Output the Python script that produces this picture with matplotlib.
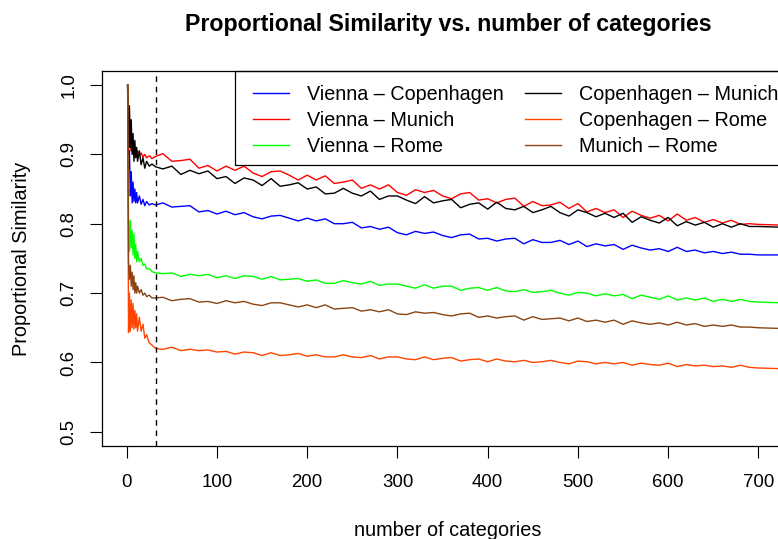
import matplotlib
matplotlib.use('Agg')
import matplotlib.pyplot as plt
from matplotlib.patches import Rectangle

plt.rcParams['font.family'] = ['Liberation Sans', 'DejaVu Sans']

# number of categories (x positions of the samples)
cats = [1, 2, 3, 4, 5, 6, 7, 8, 9, 10, 11, 12, 14, 16, 18, 20, 22, 25, 28, 32] \
    + list(range(40, 700, 10)) + [700, 725]

vienna_copenhagen = [1.0, .88, .905, .84, .875, .83, .86, .832, .85, .83, .845, .83, .84, .828, .835, .826, .832, .827, .829, .827,
    .830, .824, .825, .826, .817, .819, .814, .818, .813, .816,
    .810, .807, .811, .812, .808, .804, .808, .804, .807, .800,
    .800, .802, .794, .796, .792, .795, .787, .784, .789, .786,
    .788, .783, .780, .784, .785, .778, .779, .775, .778, .779,
    .771, .777, .773, .773, .776, .770, .775, .767, .771, .768,
    .770, .763, .769, .765, .762, .764, .760, .766, .760, .762,
    .758, .760, .757, .759, .756, .756,
    .755, .755]

vienna_munich = [1.0, .93, .91, .925, .905, .915, .90, .912, .902, .908, .90, .905, .898, .902, .896, .90, .895, .898, .894, .897,
    .901, .890, .891, .893, .880, .884, .876, .883, .877, .883,
    .873, .868, .875, .876, .870, .863, .870, .863, .869, .858,
    .860, .863, .851, .856, .850, .856, .845, .841, .849, .845,
    .848, .840, .836, .843, .845, .834, .836, .830, .835, .837,
    .825, .832, .826, .827, .831, .822, .829, .817, .822, .816,
    .820, .809, .818, .812, .808, .812, .804, .814, .805, .809,
    .802, .806, .801, .805, .799, .800,
    .799, .798]

vienna_rome = [1.0, .81, .76, .805, .765, .79, .755, .785, .75, .77, .745, .76, .745, .75, .74, .742, .735, .735, .731, .729,
    .728, .729, .724, .727, .725, .727, .722, .725, .721, .725,
    .724, .720, .724, .719, .720, .721, .717, .719, .714, .714,
    .718, .715, .713, .717, .711, .713, .713, .710, .707, .712,
    .707, .710, .710, .704, .707, .708, .704, .708, .703, .702,
    .705, .701, .702, .704, .700, .697, .701, .700, .696, .699,
    .696, .698, .692, .697, .694, .691, .696, .690, .693, .690,
    .693, .688, .691, .688, .691, .688,
    .687, .686]

copenhagen_munich = [1.0, .90, .97, .91, .95, .90, .93, .89, .92, .895, .91, .89, .905, .885, .895, .88, .89, .883, .886, .882,
    .879, .883, .871, .877, .872, .876, .865, .868, .858, .866,
    .863, .855, .865, .854, .856, .859, .850, .853, .843, .844,
    .851, .844, .840, .847, .835, .840, .840, .834, .829, .839,
    .830, .833, .835, .823, .828, .830, .821, .831, .822, .820,
    .825, .816, .820, .825, .816, .811, .820, .816, .810, .815,
    .809, .815, .802, .810, .805, .801, .809, .797, .803, .798,
    .802, .795, .800, .795, .800, .796,
    .796, .795]

copenhagen_rome = [1.0, .643, .70, .645, .69, .65, .685, .648, .675, .65, .67, .645, .665, .645, .655, .635, .64, .628, .625, .620,
    .619, .622, .617, .619, .617, .618, .615, .616, .612, .615,
    .614, .610, .614, .610, .611, .613, .609, .611, .608, .608,
    .611, .608, .607, .610, .605, .608, .608, .605, .604, .608,
    .604, .606, .607, .602, .604, .605, .601, .605, .602, .601,
    .603, .600, .601, .603, .600, .598, .602, .601, .598, .600,
    .598, .600, .596, .599, .597, .596, .599, .594, .597, .595,
    .596, .594, .595, .593, .596, .593,
    .592, .591]

munich_rome = [1.0, .745, .72, .74, .71, .73, .705, .725, .70, .715, .70, .71, .70, .705, .697, .70, .695, .697, .693, .693,
    .694, .689, .691, .692, .687, .688, .685, .689, .686, .688,
    .684, .682, .686, .686, .683, .680, .683, .679, .683, .677,
    .678, .679, .674, .676, .673, .676, .670, .669, .673, .671,
    .672, .669, .667, .670, .671, .665, .667, .664, .666, .667,
    .661, .666, .662, .663, .664, .660, .664, .659, .661, .658,
    .661, .655, .660, .657, .655, .657, .654, .658, .654, .656,
    .652, .654, .652, .654, .651, .651,
    .650, .649]

series = [
    ('Vienna \u2013 Copenhagen', vienna_copenhagen, '#0000FF'),
    ('Vienna \u2013 Munich', vienna_munich, '#FF0000'),
    ('Vienna \u2013 Rome', vienna_rome, '#00FF00'),
    ('Copenhagen \u2013 Munich', copenhagen_munich, '#000000'),
    ('Copenhagen \u2013 Rome', copenhagen_rome, '#FF4500'),
    ('Munich \u2013 Rome', munich_rome, '#8B4513'),
]
cutoff = 32

fs = 13.4
fs_lab = 14.3
fig = plt.figure(figsize=(7.78, 5.39), dpi=100)
ax = fig.add_axes([0.1311, 0.1731, 0.8895, 0.695])

for name, vals, col in series:
    ax.plot(cats, vals, color=col, lw=1.0, label=name)

ax.axvline(cutoff, color='black', lw=1.0, linestyle=(0, (4, 3.5)))

ax.set_xlim(-27.4, 739.4)
ax.set_ylim(0.48, 1.02)
ax.set_xticks(range(0, 701, 100))
ax.set_yticks([0.5, 0.6, 0.7, 0.8, 0.9, 1.0])
ax.set_yticklabels(['0.5', '0.6', '0.7', '0.8', '0.9', '1.0'], rotation=90, va='center')
ax.tick_params(direction='out', length=8.5, width=0.8, labelsize=fs)
ax.tick_params(axis='x', pad=12)
ax.tick_params(axis='y', pad=9)
for sp in ax.spines.values():
    sp.set_linewidth(0.9)

ax.set_xlabel('number of categories', fontsize=fs_lab, va='center')
ax.xaxis.set_label_coords(0.5, -0.2277)
ax.set_ylabel('Proportional Similarity', fontsize=fs_lab, va='center')
ax.yaxis.set_label_coords(-0.117, 0.5)

fig.text(0.5 * (0.1311 + 0.1311 + 0.8895), 1 - 24 / 539,
         'Proportional Similarity vs. number of categories',
         ha='center', va='center', fontsize=16.7, fontweight='bold')

# legend box runs past the right edge of the picture, like the original
ax.add_patch(Rectangle((0.1922, 0.7493), 0.8078, 0.2507, transform=ax.transAxes,
                       fill=False, lw=0.9, edgecolor='black', clip_on=False))
leg = ax.legend(ncol=2, loc='upper left', bbox_to_anchor=(0.1978, 1.0),
                borderaxespad=0, fontsize=14.2, frameon=False,
                handlelength=1.86, handletextpad=0.9,
                columnspacing=1.05, labelspacing=0.35, borderpad=0.7)

fig.savefig('out.png', dpi=100)
